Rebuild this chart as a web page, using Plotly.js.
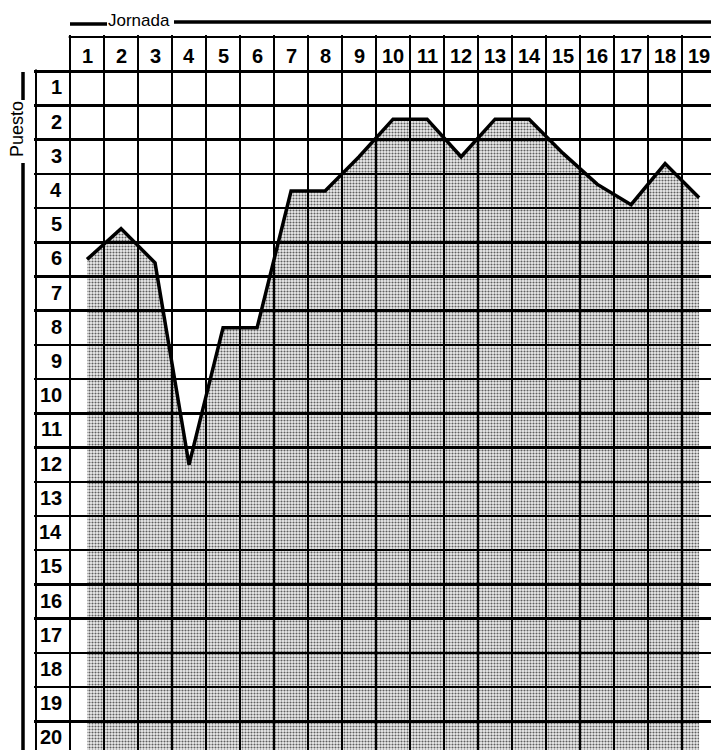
<!DOCTYPE html>
<html><head><meta charset="utf-8">
<script src="https://cdn.plot.ly/plotly-3.0.1.min.js"></script>
<style>html,body{margin:0;padding:0;background:#fff;overflow:hidden}#chart{width:711px;height:750px}</style>
</head><body><div id="chart"></div>
<script>
// ---- data ----
const jornadas = [1,2,3,4,5,6,7,8,9,10,11,12,13,14,15,16,17,18,19];
const puestos  = [6, 5.1, 6.1, 12, 8, 8, 4, 4, 3, 1.9, 1.9, 3, 1.9, 1.9, 2.9, 3.8, 4.4, 3.2, 4.2];
const jornadaLabels = ['1','2','3','4','5','6','7','8','9','10','11','12','13','14','15','16','17','18','19'];
const puestoLabels  = ['1','2','3','4','5','6','7','8','9','10','11','12','13','14','15','16','17','18','19','20'];
const xTitle = 'Jornada';
const yTitle = 'Puesto';
const fondo = 21; // bottom of the shaded area (below last row)

// ---- layout geometry ----
const W = 711, H = 750, ml = 34, mt = 35, mr = 0, mb = 0;
const pw = W - ml - mr, ph = H - mt - mb;
const PX = x => (x - ml) / pw;
const PY = y => (H - mb - y) / ph;

const labelFont = {family: 'Liberation Sans, Arial, sans-serif', size: 20, color: '#000', weight: 'bold'};
const titleFont = {family: 'Liberation Sans, Arial, sans-serif', size: 17, color: '#000'};

const traces = [
  {x: jornadas, y: jornadas.map(() => fondo), mode: 'lines', line: {width: 0, color: 'rgba(0,0,0,0)'},
   hoverinfo: 'skip', showlegend: false},
  {x: jornadas, y: puestos, mode: 'lines', fill: 'tonexty',
   fillcolor: 'rgba(0,0,0,0.25)',
   fillpattern: {shape: '.', size: 3, solidity: 0.4, fgcolor: '#000', fgopacity: 0.6, bgcolor: 'rgba(0,0,0,0.07)'},
   line: {color: '#000', width: 3.5, shape: 'linear'}, showlegend: false}
];

const annotations = [];
jornadaLabels.forEach((t, i) => annotations.push({
  x: jornadas[i], y: 0, xref: 'x', yref: 'y', text: t, showarrow: false,
  xanchor: 'center', yanchor: 'middle', yshift: -2, font: labelFont
}));
puestoLabels.forEach((t, i) => annotations.push({
  x: 0.5, y: i + 1, xref: 'x', yref: 'y', text: t, showarrow: false,
  xanchor: 'right', yanchor: 'middle', xshift: -6, yshift: 1, font: labelFont
}));
annotations.push({x: PX(139), y: PY(21), xref: 'paper', yref: 'paper', text: xTitle, showarrow: false,
  xanchor: 'center', yanchor: 'middle', font: titleFont});
annotations.push({x: PX(17), y: PY(129), xref: 'paper', yref: 'paper', text: yTitle, showarrow: false,
  textangle: -90, xanchor: 'center', yanchor: 'middle', font: {family: titleFont.family, size: 18, color: '#000'}});

const lineStyle = {color: '#000', width: 3.5};
const shapes = [
  {type: 'rect', xref: 'x', yref: 'y', x0: -0.6, x1: 0.46, y0: -0.6, y1: 0.45, fillcolor: '#fff', line: {width: 0}, layer: 'above'},
  {type: 'line', xref: 'paper', yref: 'paper', x0: PX(70), x1: PX(107), y0: PY(24), y1: PY(24), line: lineStyle},
  {type: 'line', xref: 'paper', yref: 'paper', x0: PX(174), x1: PX(712), y0: PY(22), y1: PY(22), line: lineStyle},
  {type: 'line', xref: 'paper', yref: 'paper', x0: PX(23), x1: PX(23), y0: PY(72), y1: PY(100), line: lineStyle},
  {type: 'line', xref: 'paper', yref: 'paper', x0: PX(23), x1: PX(23), y0: PY(163), y1: PY(752), line: lineStyle}
];

const layout = {
  width: W, height: H,
  margin: {l: ml, r: mr, t: mt, b: mb, pad: 0},
  paper_bgcolor: '#fff', plot_bgcolor: '#fff',
  showlegend: false,
  xaxis: {range: [-0.56, 19.35], tickmode: 'linear', tick0: -0.5, dtick: 1,
          showgrid: true, gridcolor: '#000', gridwidth: 2, zeroline: false,
          showticklabels: false, ticks: '', showline: false, fixedrange: true},
  yaxis: {range: [20.34, -0.56], tickmode: 'linear', tick0: -0.5, dtick: 1,
          showgrid: true, gridcolor: '#000', gridwidth: 2.5, zeroline: false,
          showticklabels: false, ticks: '', showline: false, fixedrange: true},
  annotations: annotations,
  shapes: shapes
};

Plotly.newPlot('chart', traces, layout, {staticPlot: true, displayModeBar: false});
</script>
</body></html>
